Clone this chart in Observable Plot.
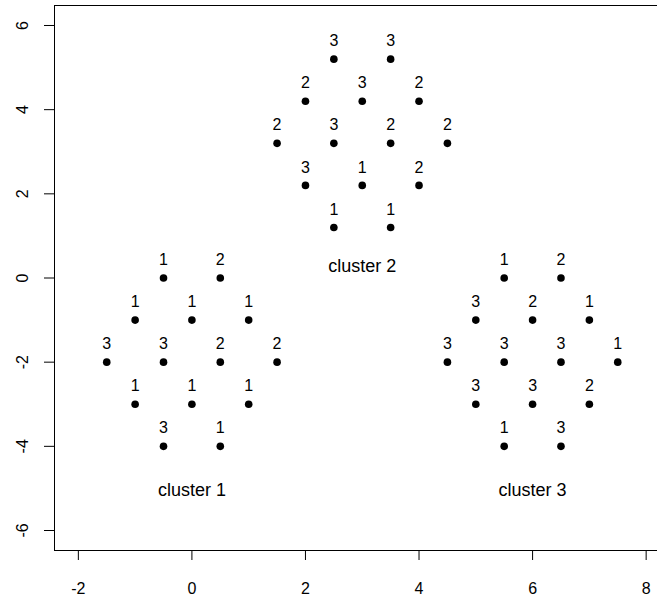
<!DOCTYPE html>
<html>
<head>
<meta charset="utf-8">
<script src="https://cdn.jsdelivr.net/npm/d3@7"></script>
<script src="https://cdn.jsdelivr.net/npm/@observablehq/plot@0.6"></script>
<style>
  html, body { margin: 0; padding: 0; background: #fff; }
  #chart svg { display: block; }
</style>
</head>
<body>
<div id="chart"></div>
<script>
// point coordinates and their labels
const pointX = [
  -0.5, 0.5, -1, 0, 1, -1.5, -0.5, 0.5, 1.5, -1, 0, 1, -0.5, 0.5,
  2.5, 3.5, 2, 3, 4, 1.5, 2.5, 3.5, 4.5, 2, 3, 4, 2.5, 3.5,
  5.5, 6.5, 5, 6, 7, 4.5, 5.5, 6.5, 7.5, 5, 6, 7, 5.5, 6.5
];
const pointY = [
  0, 0, -1, -1, -1, -2, -2, -2, -2, -3, -3, -3, -4, -4,
  5.2, 5.2, 4.2, 4.2, 4.2, 3.2, 3.2, 3.2, 3.2, 2.2, 2.2, 2.2, 1.2, 1.2,
  0, 0, -1, -1, -1, -2, -2, -2, -2, -3, -3, -3, -4, -4
];
const pointLabel = [
  "1", "2", "1", "1", "1", "3", "3", "2", "2", "1", "1", "1", "3", "1",
  "3", "3", "2", "3", "2", "2", "3", "2", "2", "3", "1", "2", "1", "1",
  "1", "2", "3", "2", "1", "3", "3", "3", "1", "3", "3", "2", "1", "3"
];
// cluster captions
const clusterName = ["cluster 1", "cluster 2", "cluster 3"];
const clusterX = [0, 3, 6];
const clusterY = [-5.05, 0.28, -5.05];
// axis ticks
const xTicks = [-2, 0, 2, 4, 6, 8];
const yTicks = [-6, -4, -2, 0, 2, 4, 6];

const points = pointX.map((x, i) => ({x, y: pointY[i], label: pointLabel[i]}));
const clusters = clusterName.map((name, i) => ({name, x: clusterX[i], y: clusterY[i]}));

const font = "'Liberation Sans', Arial, Helvetica, sans-serif";

const chart = Plot.plot({
  width: 657,
  height: 596,
  marginLeft: 54,
  marginRight: 0,
  marginTop: 5,
  marginBottom: 46,
  style: {fontFamily: font, fontSize: "16px", color: "#000", background: "#fff"},
  x: {domain: [-2.42, 8.2]},
  y: {domain: [-6.475, 6.475]},
  marks: [
    Plot.frame({stroke: "#000", strokeWidth: 1}),
    Plot.axisX({ticks: xTicks, tickFormat: d => String(d), tickSize: 10, tickPadding: 22, label: null, fontSize: 16, stroke: "#000"}),
    Plot.axisY({ticks: yTicks, tickFormat: d => String(d), tickSize: 10, tickPadding: 17, tickRotate: -90, label: null, fontSize: 16, stroke: "#000"}),
    Plot.dot(points, {x: "x", y: "y", r: 3.8, fill: "#000", stroke: null}),
    Plot.text(points, {x: "x", y: "y", text: "label", dy: -18, fontSize: 16, fill: "#000"}),
    Plot.text(clusters, {x: "x", y: "y", text: "name", fontSize: 18, fill: "#000"})
  ]
});
document.getElementById("chart").appendChild(chart);
</script>
</body>
</html>
